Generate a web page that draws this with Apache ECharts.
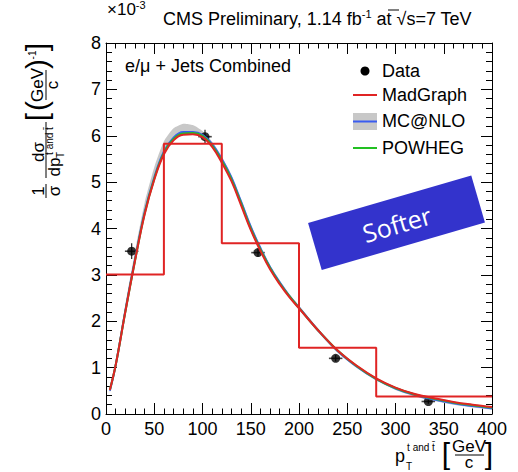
<!DOCTYPE html>
<html><head><meta charset="utf-8">
<script src="https://cdn.jsdelivr.net/npm/echarts@6/dist/echarts.min.js"></script>
<style>html,body{margin:0;padding:0;background:#fff}#c{width:518px;height:472px}</style>
</head><body><div id="c"></div>
<script>
// ---- data ----
const binEdges = [0, 60, 120, 200, 280, 400];
const madgraphHist = [3.01, 5.83, 3.68, 1.43, 0.38];
const dataX = [26.6, 102.6, 157.5, 238, 334];
const dataY = [3.51, 5.98, 3.48, 1.20, 0.27];
const dataXErr = [7, 7, 7, 7, 7];
const dataYErr = [0.17, 0.15, 0.09, 0.07, 0.05];
const curveX = [4,10,20,30,40,50,60,70,80,90,100,110,120,130,140,150,160,170,180,190,200,220,240,260,280,300,320,340,360,380,400];
const madgraphCurve = [0.52,1.05,2.2,3.3,4.3,5.05,5.6,5.9,6.02,6.03,5.97,5.76,5.42,5.02,4.5,3.97,3.52,3.12,2.8,2.52,2.28,1.8,1.37,1.04,0.77,0.57,0.43,0.34,0.26,0.2,0.15];
const mcatnloCurve = [0.5,1.05,2.22,3.33,4.35,5.1,5.66,5.96,6.08,6.08,6.02,5.82,5.5,5.1,4.58,4.04,3.58,3.17,2.84,2.55,2.3,1.8,1.36,1.02,0.75,0.55,0.41,0.31,0.23,0.17,0.12];
const powhegCurve = [0.52,1.05,2.2,3.3,4.32,5.07,5.63,5.93,6.05,6.06,6.0,5.79,5.46,5.06,4.54,4.0,3.55,3.15,2.82,2.54,2.29,1.8,1.37,1.03,0.76,0.56,0.42,0.33,0.25,0.19,0.14];
const mcatnloUp = [0.55,1.14,2.35,3.5,4.55,5.32,5.88,6.16,6.26,6.23,6.1,5.87,5.55,5.15,4.63,4.09,3.62,3.21,2.88,2.59,2.34,1.84,1.4,1.05,0.78,0.58,0.44,0.34,0.26,0.2,0.15];
const mcatnloDown = [0.46,1.0,2.16,3.27,4.29,5.04,5.6,5.91,6.03,6.03,5.97,5.77,5.45,5.05,4.53,3.99,3.53,3.12,2.79,2.5,2.25,1.76,1.32,0.99,0.72,0.52,0.38,0.28,0.2,0.14,0.1];
const xTicks = {min: 0, max: 400, interval: 50};
const yTicks = {min: 0, max: 8, interval: 1};

// ---- build ----
const FONT = "'Liberation Sans', Arial, sans-serif";
const RED = '#e02424', BLUE = '#3a5cf0', GREEN = '#22c022', GREY = '#c8c8c8';
const histPts = [];
madgraphHist.forEach((v, i) => { histPts.push([binEdges[i], v]); histPts.push([binEdges[i+1], v]); });
const pair = arr => curveX.map((x, i) => [x, arr[i]]);

const chart = echarts.init(document.getElementById('c'), null, {renderer: 'svg'});
const lab = (show, margin) => ({show, color: '#000', fontSize: 18, fontFamily: FONT, margin});
function axis(pos, ticks, labels, minorLen, margin) {
  return Object.assign({type: 'value', position: pos, splitLine: {show: false},
    axisLine: {show: true, onZero: false, lineStyle: {color: '#000'}},
    axisTick: {show: true, inside: true, length: 11, lineStyle: {color: '#000'}},
    minorTick: {show: true, splitNumber: 5, length: minorLen, lineStyle: {color: '#000'}},
    axisLabel: lab(labels, margin)}, ticks);
}
const txt = (x, y, text, size, align) => ({type: 'text', x, y,
  style: {text, fontSize: size || 18, fontFamily: FONT, fill: '#000', align: align || 'center', verticalAlign: 'middle'}});
const ln = (x1, y1, x2, y2, color, w) => ({type: 'line', shape: {x1, y1, x2, y2}, style: {stroke: color || '#000', lineWidth: w || 1}});

const option = {
  animation: false,
  grid: {left: 106, right: 26, top: 43, bottom: 58},
  xAxis: [axis('bottom', xTicks, true, 5.5, 6), axis('top', xTicks, false, 5.5, 6)],
  yAxis: [axis('left', yTicks, true, 6, 5), axis('right', yTicks, false, 6, 5)],
  series: [
    {type: 'custom', name: 'MC@NLO band', data: curveX.map((x, i) => [x, mcatnloUp[i], mcatnloDown[i]]),
      renderItem: (params, api) => {
        if (params.dataIndex !== 0) return null;
        const pts = [];
        for (let i = 0; i < curveX.length; i++) pts.push(api.coord([curveX[i], mcatnloUp[i]]));
        for (let i = curveX.length - 1; i >= 0; i--) pts.push(api.coord([curveX[i], mcatnloDown[i]]));
        return {type: 'polygon', shape: {points: pts, smooth: 0.2}, style: {fill: GREY}};
      }},
    {type: 'line', name: 'MC@NLO', data: pair(mcatnloCurve), smooth: 0.4, showSymbol: false, lineStyle: {color: BLUE, width: 2}},
    {type: 'line', name: 'POWHEG', data: pair(powhegCurve), smooth: 0.4, showSymbol: false, lineStyle: {color: GREEN, width: 2}},
    {type: 'line', name: 'MadGraph', data: pair(madgraphCurve), smooth: 0.4, showSymbol: false, lineStyle: {color: RED, width: 2}},
    {type: 'line', name: 'MadGraph hist', data: histPts, showSymbol: false, lineStyle: {color: RED, width: 2}},
    {type: 'custom', name: 'Data err', data: dataX.map((x, i) => [x, dataY[i], dataXErr[i], dataYErr[i]]),
      renderItem: (params, api) => {
        const x = api.value(0), y = api.value(1), ex = api.value(2), ey = api.value(3);
        const l = api.coord([x - ex, y]), r = api.coord([x + ex, y]);
        const t = api.coord([x, y + ey]), b = api.coord([x, y - ey]);
        return {type: 'group', children: [
          {type: 'line', shape: {x1: l[0], y1: l[1], x2: r[0], y2: r[1]}, style: {stroke: '#444', lineWidth: 1.6}},
          {type: 'line', shape: {x1: t[0], y1: t[1], x2: b[0], y2: b[1]}, style: {stroke: '#222', lineWidth: 1.2}}
        ]};
      }},
    {type: 'scatter', name: 'Data', data: dataX.map((x, i) => [x, dataY[i]]), symbol: 'circle', symbolSize: 9,
      itemStyle: {color: '#000'}}
  ],
  graphic: [
    {type: 'text', x: 163, y: 19, style: {
      text: '{a|CMS Preliminary, 1.14 fb}{s|-1}{a| at }{a|√s=7 TeV}',
      verticalAlign: 'middle', fill: '#000', fontFamily: FONT,
      rich: {a: {fontSize: 18, fontFamily: FONT, fill: '#000'}, s: {fontSize: 11, fontFamily: FONT, fill: '#000', padding: [0, 0, 10, 0]}}}},
    ln(388, 10, 399, 10),
    {type: 'text', x: 107, y: 9, style: {
      text: '{a|×10}{s|-3}', verticalAlign: 'middle', fontFamily: FONT,
      rich: {a: {fontSize: 17, fontFamily: FONT, fill: '#000'}, s: {fontSize: 11, fontFamily: FONT, fill: '#000', padding: [0, 0, 9, 0]}}}},
    txt(125, 66, 'e/μ + Jets Combined', 18, 'left'),
    {type: 'circle', shape: {cx: 365, cy: 71, r: 4.5}, style: {fill: '#000'}},
    txt(382, 71, 'Data', 18, 'left'),
    ln(353, 95, 377, 95, RED, 2), txt(382, 95, 'MadGraph', 18, 'left'),
    {type: 'rect', shape: {x: 353, y: 113, width: 24, height: 17}, style: {fill: GREY}},
    ln(353, 121.5, 377, 121.5, BLUE, 2), txt(382, 121, 'MC@NLO', 18, 'left'),
    ln(353, 148, 377, 148, GREEN, 2), txt(382, 148, 'POWHEG', 18, 'left'),
    {type: 'group', x: 396.5, y: 222.8, rotation: 0.283, children: [
      {type: 'rect', shape: {x: -85, y: -24.5, width: 170, height: 49}, style: {fill: '#3333cc'}},
      {type: 'text', x: 0, y: 1, style: {text: 'Softer', fontSize: 25, fontFamily: "'Open Sans', sans-serif", fill: '#fff', align: 'center', verticalAlign: 'middle'}}
    ]},
    txt(400, 456, 'p', 18),
    txt(421, 447, 't and t\u0304', 10),
    txt(409, 466, 'T', 10),
    txt(446, 453, '[', 30),
    txt(469, 446, 'GeV', 17),
    ln(455, 455, 484, 455),
    txt(469, 462, 'c', 17),
    txt(489, 453, ']', 30),
    {type: 'group', x: 46, y: 122, rotation: Math.PI / 2, children: [
      txt(-69, -8, '1', 17),
      ln(-76, 0, -62, 0),
      txt(-69, 8, 'σ', 17),
      txt(-30, -8, 'dσ', 17),
      ln(-56, 0, 0, 0),
      txt(-45, 8, 'dp', 17),
      txt(-19, 3, 't and t\u0304', 10),
      txt(-33, 14, 'T', 10),
      txt(5, -10, '[', 30),
      txt(16, -10, '(', 30),
      txt(37, -9, 'GeV', 17),
      ln(22, 0, 52, 0),
      txt(37, 6, 'c', 17),
      txt(58, -10, ')', 30),
      txt(67, -14, '-1', 10),
      txt(75, -10, ']', 30)
    ]}
  ]
};
chart.setOption(option);
</script>
</body></html>
